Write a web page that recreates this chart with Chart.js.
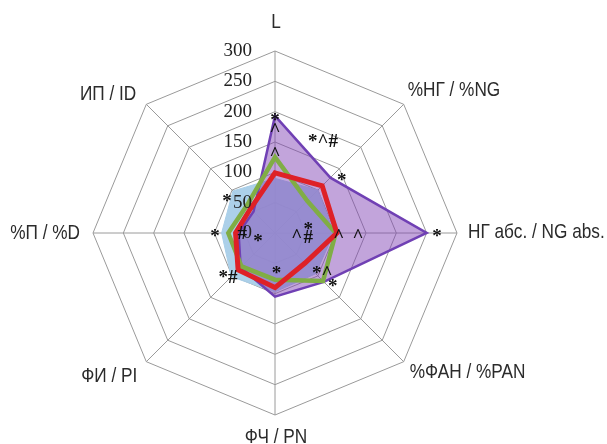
<!DOCTYPE html>
<html>
<head>
<meta charset="utf-8">
<script src="https://cdn.jsdelivr.net/npm/chart.js@4/dist/chart.umd.min.js"></script>
<style>
  html, body { margin: 0; padding: 0; background: #fff; }
  #wrap { width: 607px; height: 444px; }
</style>
</head>
<body>
<div id="wrap"><canvas id="radar-chart" width="607" height="444"></canvas></div>
<script>
const categories = ['L', '%НГ / %NG', 'НГ абс. / NG abs.', '%ФАН / %PAN', 'ФЧ / PN', 'ФИ / PI', '%П / %D', 'ИП / ID'];

// series values
const blueValues   = [90, 100, 97, 95, 97, 102, 88, 98];
const purpleValues = [193, 129, 250, 114, 105, 80, 60, 50];
const greenValues  = [125, 75, 100, 112, 77, 78, 77, 65];
const redValues    = [99, 110, 102, 70, 90, 86, 65, 57];

const tickValues = [0, 50, 100, 150, 200, 250, 300];

// significance marks: where they sit (category position, value) and the text
const markPos   = [0, 0, 0, 0.61, 1.11, 2, 2, 2, 2, 1.73, 2.15, 2.85, 2.91, 3.95, 5.04, 6, 6, 5.64, 6.8];
const markValue = [191, 175, 135, 172, 144, 267, 137, 105, 36, 56, 55, 99, 126, 61, 106, 99, 54, 29, 98];
const markText  = ['*', '^', '^', '*^#', '*', '*', '^', '^', '^', '*', '#', '*^', '*', '*', '*#', '*', '#', '*', '*'];

// narrow sans: Liberation Sans squeezed horizontally
const labelFont = "21px 'Liberation Sans', Arial, sans-serif";
const labelSqueeze = 0.82;
const numberFont = "19px 'Liberation Serif', 'Times New Roman', serif";
const markFont = "bold 19px 'Liberation Serif', 'Times New Roman', serif";

// offsets of each axis label from the outer ring vertex
const labelStyle = [
    { dx: 1, dy: -29, align: 'center' },
    { dx: 4, dy: -14, align: 'left' },
    { dx: 11, dy: -1, align: 'left' },
    { dx: 6, dy: 11, align: 'left' },
    { dx: 1, dy: 22, align: 'center' },
    { dx: -9, dy: 15, align: 'right' },
    { dx: -13, dy: 0, align: 'right' },
    { dx: -10, dy: -10, align: 'right' },
];

const extraText = {
    id: 'extraText',
    afterDatasetsDraw(chart) {
        const scale = chart.scales.r;
        const ctx = chart.ctx;
        ctx.save();

        // tick numbers to the left of the vertical axis
        ctx.font = numberFont;
        ctx.fillStyle = '#222';
        ctx.textAlign = 'right';
        ctx.textBaseline = 'middle';
        tickValues.forEach(v => {
            const p = scale.getPointPositionForValue(0, v);
            ctx.fillText(String(v), scale.xCenter - 23, p.y);
        });

        // marks
        ctx.font = markFont;
        ctx.textAlign = 'center';
        ctx.textBaseline = 'alphabetic';
        ctx.fillStyle = '#111';
        markText.forEach((t, i) => {
            const p = scale.getPointPositionForValue(markPos[i], markValue[i]);
            const shift = t.includes('#') ? 0.34 : 0.47;
            ctx.fillText(t, p.x, p.y + shift * 19);
        });

        // axis labels
        ctx.font = labelFont;
        ctx.fillStyle = '#2b2b2b';
        ctx.textBaseline = 'middle';
        categories.forEach((c, i) => {
            const p = scale.getPointPositionForValue(i, 300);
            const s = labelStyle[i];
            ctx.save();
            ctx.translate(p.x + s.dx, p.y + s.dy);
            ctx.scale(labelSqueeze, 1);
            ctx.textAlign = s.align;
            ctx.fillText(c, 0, 0);
            ctx.restore();
        });

        ctx.restore();
    }
};

new Chart(document.querySelector('#radar-chart').getContext('2d'), {
    type: 'radar',
    data: {
        labels: categories,
        datasets: [
            {
                label: 'red',
                data: redValues,
                borderColor: '#de2127',
                borderWidth: 5,
                backgroundColor: 'rgba(0,0,0,0)',
                fill: false,
                pointRadius: 0,
                order: 1,
            },
            {
                label: 'green',
                data: greenValues,
                borderColor: '#80ad45',
                borderWidth: 4.5,
                backgroundColor: 'rgba(0,0,0,0)',
                fill: false,
                pointRadius: 0,
                order: 2,
            },
            {
                label: 'purple',
                data: purpleValues,
                borderColor: '#7040b4',
                borderWidth: 2.5,
                backgroundColor: 'rgba(128,64,180,0.48)',
                fill: true,
                pointRadius: 0,
                order: 3,
            },
            {
                label: 'blue',
                data: blueValues,
                borderColor: 'rgba(168,206,232,1)',
                borderWidth: 1,
                backgroundColor: 'rgba(168,206,232,0.95)',
                fill: true,
                pointRadius: 0,
                order: 4,
            },
        ]
    },
    options: {
        responsive: false,
        animation: false,
        layout: { padding: { left: 93, top: 51, right: 150, bottom: 29 } },
        plugins: {
            legend: { display: false },
            tooltip: { enabled: false },
        },
        elements: { line: { tension: 0, borderJoinStyle: 'miter' } },
        scales: {
            r: {
                min: 0,
                max: 300,
                ticks: { stepSize: 50, display: false },
                pointLabels: { display: false },
                grid: { color: '#9a9a9a', lineWidth: 1 },
                angleLines: { color: '#9a9a9a', lineWidth: 1 },
            }
        }
    },
    plugins: [extraText]
});
</script>
</body>
</html>
